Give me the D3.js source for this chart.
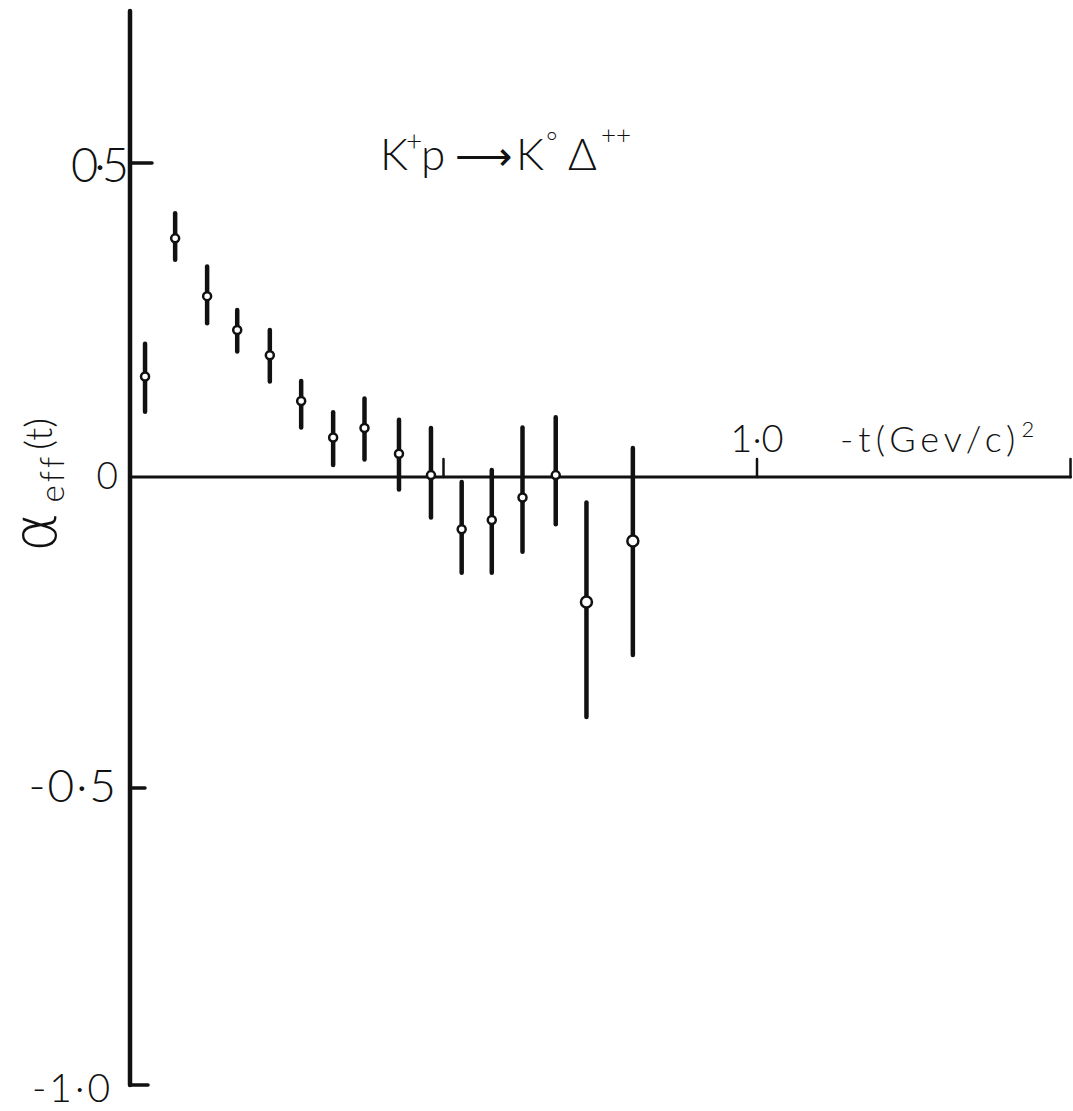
<!DOCTYPE html>
<html>
<head>
<meta charset="utf-8">
<script src="https://cdn.jsdelivr.net/npm/d3@7"></script>
<style>
  html, body { margin: 0; padding: 0; background: #fff; }
  svg { display: block; }
  text { font-family: Lato, "Liberation Sans", "DejaVu Sans", sans-serif; font-weight: 300; fill: #111; }
</style>
</head>
<body>
<div id="chart"></div>
<script>
// ---- Data ----
const tValues   = [0.024, 0.072, 0.123, 0.171, 0.223, 0.273, 0.324, 0.374,
                   0.429, 0.480, 0.529, 0.577, 0.626, 0.679, 0.728, 0.802];
const alphaEff  = [0.160, 0.380, 0.288, 0.234, 0.194, 0.121, 0.063, 0.078,
                   0.037, 0.003, -0.084, -0.069, -0.033, 0.003, -0.201, -0.103];
const errPlus   = [0.052, 0.040, 0.047, 0.032, 0.040, 0.032, 0.040, 0.047,
                   0.054, 0.075, 0.076, 0.080, 0.112, 0.092, 0.160, 0.149];
const errMinus  = [0.056, 0.034, 0.043, 0.034, 0.042, 0.042, 0.044, 0.050,
                   0.057, 0.068, 0.070, 0.085, 0.087, 0.079, 0.185, 0.183];

const yTicks = [0.5, 0, -0.5, -1.0];
const yTickLabels = ['0·5', '0', '-0·5', '-1·0'];
const xTicks = [0.5, 1.0, 1.5];
const xTickLabels = ['', '1·0', ''];

const width = 1073, height = 1111;

// hand-drawn axis: spacing is not quite uniform, so use a piecewise scale
const y = d3.scaleLinear()
  .domain([-1.0, -0.5, 0, 0.5])
  .range([1085, 788, 477, 163]);

const x = d3.scaleLinear()
  .domain([0, 1])
  .range([130, 757]);

const svg = d3.select('#chart').append('svg')
  .attr('width', width)
  .attr('height', height)
  .attr('viewBox', [0, 0, width, height]);

// ---- Axes ----
const axisG = svg.append('g').attr('stroke', '#111').attr('stroke-linecap', 'round');

// vertical axis
axisG.append('line')
  .attr('x1', x(0)).attr('x2', x(0))
  .attr('y1', y(0.742)).attr('y2', y(-1.0))
  .attr('stroke-width', 4.5);

// horizontal axis through zero
axisG.append('line')
  .attr('x1', x(0)).attr('x2', x(1.5))
  .attr('y1', y(0)).attr('y2', y(0))
  .attr('stroke-width', 3);

// y ticks point inward (to the right)
const yTickLen = { '0.5': 22, '-0.5': 15, '-1': 18 };
axisG.selectAll('.ytick')
  .data(yTicks.filter(d => d !== 0))
  .join('line')
  .attr('class', 'ytick')
  .attr('x1', x(0))
  .attr('x2', d => x(0) + yTickLen[String(d)])
  .attr('y1', d => y(d)).attr('y2', d => y(d))
  .attr('stroke-width', 3.5);

// x ticks point upward
axisG.selectAll('.xtick')
  .data(xTicks)
  .join('line')
  .attr('class', 'xtick')
  .attr('x1', d => x(d)).attr('x2', d => x(d))
  .attr('y1', y(0)).attr('y2', y(0) - 18)
  .attr('stroke-width', 2.5);

// y tick labels
const yLabelStyle = {
  '0.5':  { size: 47, dx: -5, dy: 19, ls: -4 },
  '0':    { size: 37, dx: -12, dy: 12, ls: 0 },
  '-0.5': { size: 46, dx: -12, dy: 14, ls: 2 },
  '-1':   { size: 39, dx: -17, dy: 17, ls: 3 },
};
svg.selectAll('.ylabel')
  .data(yTicks)
  .join('text')
  .attr('class', 'ylabel')
  .attr('text-anchor', 'end')
  .attr('x', d => x(0) + yLabelStyle[String(d)].dx)
  .attr('y', d => y(d) + yLabelStyle[String(d)].dy)
  .attr('font-size', d => yLabelStyle[String(d)].size)
  .attr('letter-spacing', d => yLabelStyle[String(d)].ls)
  .text((d, i) => yTickLabels[i]);

// x tick labels
svg.selectAll('.xlabel')
  .data(xTicks.filter((d, i) => xTickLabels[i] !== ''))
  .join('text')
  .attr('class', 'xlabel')
  .attr('text-anchor', 'middle')
  .attr('x', d => x(d))
  .attr('y', y(0) - 25)
  .attr('font-size', 38)
  .text(d => xTickLabels[xTicks.indexOf(d)]);

// x axis title
const xTitle = svg.append('text')
  .attr('x', 840)
  .attr('y', y(0) - 25)
  .attr('font-size', 36)
  .attr('letter-spacing', 5);
xTitle.append('tspan').text('-t(Gev/c)');
xTitle.append('tspan').attr('font-size', 22).attr('dy', -15).attr('dx', 1).text('2');

// y axis title, rotated
const yTitle = svg.append('text')
  .attr('transform', 'translate(56,552) rotate(-90)')
  .attr('font-size', 60);
yTitle.append('tspan').attr('font-family', 'DejaVu Sans').attr('font-weight', 200).text('α');
yTitle.append('tspan').attr('font-size', 33).attr('dy', 8).attr('dx', 10).attr('letter-spacing', 3).text('eff');
yTitle.append('tspan').attr('font-size', 38).attr('dy', -12).attr('dx', 4).text('(t)');

// reaction label
const title = svg.append('text')
  .attr('y', 170)
  .attr('font-size', 44);
title.append('tspan').attr('x', 380).text('K');
title.append('tspan').attr('x', 406).attr('font-size', 28).attr('dy', -19).text('+');
title.append('tspan').attr('x', 421).attr('dy', 19).text('p');
title.append('tspan').attr('x', 455).attr('font-family', 'DejaVu Sans').attr('font-weight', 200).attr('font-size', 40).text('⟶');
title.append('tspan').attr('x', 516).text('K');
title.append('tspan').attr('x', 546).attr('font-size', 28).attr('dy', -18).text('°');
title.append('tspan').attr('x', 568).attr('dy', 18).text('Δ');
title.append('tspan').attr('x', 601).attr('font-size', 26).attr('dy', -26).text('++');

// ---- Error bars + points ----
const points = tValues.map((t, i) => ({
  t, a: alphaEff[i], hi: alphaEff[i] + errPlus[i], lo: alphaEff[i] - errMinus[i],
}));

const dataG = svg.append('g');

dataG.selectAll('.err')
  .data(points)
  .join('line')
  .attr('class', 'err')
  .attr('x1', d => x(d.t)).attr('x2', d => x(d.t))
  .attr('y1', d => y(d.hi)).attr('y2', d => y(d.lo))
  .attr('stroke', '#111')
  .attr('stroke-width', 4.5)
  .attr('stroke-linecap', 'round');

dataG.selectAll('.pt')
  .data(points)
  .join('circle')
  .attr('class', 'pt')
  .attr('cx', d => x(d.t))
  .attr('cy', d => y(d.a))
  .attr('r', d => (d.hi - d.lo) > 0.3 ? 5.5 : 4)
  .attr('fill', '#fff')
  .attr('stroke', '#111')
  .attr('stroke-width', 2.5);
</script>
</body>
</html>
